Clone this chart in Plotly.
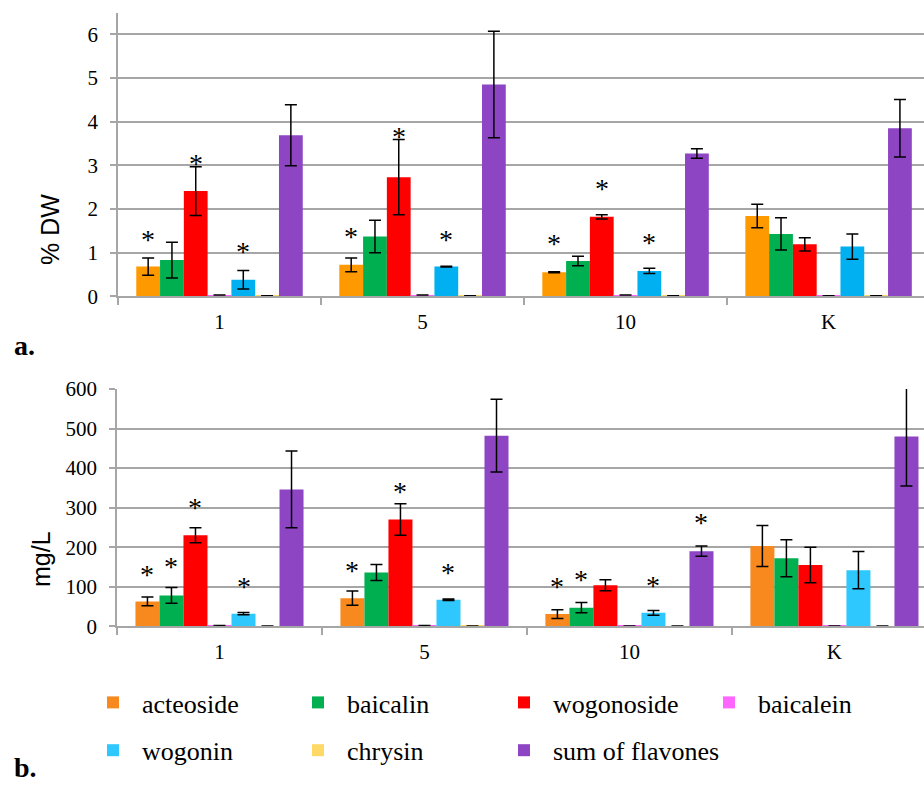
import plotly.graph_objects as go

# Treatments (x categories) and compounds (bar series)
categories = ["1", "5", "10", "K"]
compounds = ["acteoside", "baicalin", "wogonoside", "baicalein",
             "wogonin", "chrysin", "sum of flavones"]

# Panel a: content in % of dry weight (mean, error)
dw_mean = {
    "acteoside":       [0.68, 0.72, 0.55, 1.84],
    "baicalin":        [0.83, 1.37, 0.81, 1.43],
    "wogonoside":      [2.41, 2.73, 1.82, 1.19],
    "baicalein":       [0.03, 0.03, 0.03, 0.01],
    "wogonin":         [0.38, 0.68, 0.58, 1.14],
    "chrysin":         [0.01, 0.01, 0.01, 0.01],
    "sum of flavones": [3.69, 4.85, 3.27, 3.85],
}
dw_err = {
    "acteoside":       [0.20, 0.16, 0.01, 0.27],
    "baicalin":        [0.41, 0.37, 0.11, 0.37],
    "wogonoside":      [0.56, 0.86, 0.05, 0.15],
    "baicalein":       [0.0, 0.0, 0.0, 0.0],
    "wogonin":         [0.21, 0.01, 0.06, 0.29],
    "chrysin":         [0.0, 0.0, 0.0, 0.0],
    "sum of flavones": [0.70, 1.22, 0.11, 0.66],
}

# Panel b: concentration in mg/L (mean, error)
mgl_mean = {
    "acteoside":       [63, 71, 31, 203],
    "baicalin":        [78, 136, 47, 172],
    "wogonoside":      [230, 270, 104, 155],
    "baicalein":       [2, 2, 1, 1],
    "wogonin":         [32, 67, 34, 142],
    "chrysin":         [0.5, 1, 0.5, 0.5],
    "sum of flavones": [346, 482, 190, 480],
}
mgl_err = {
    "acteoside":       [11, 18, 11, 52],
    "baicalin":        [20, 20, 13, 47],
    "wogonoside":      [19, 40, 14, 45],
    "baicalein":       [0, 0, 0, 0],
    "wogonin":         [3, 2, 6, 47],
    "chrysin":         [0, 0, 0, 0],
    "sum of flavones": [97, 92, 13, 125],
}

# Significance asterisks: (category, compound, height of the mark)
stars_a = [("1", "acteoside", 1.38), ("1", "wogonoside", 3.12), ("1", "wogonin", 1.10),
           ("5", "acteoside", 1.43), ("5", "wogonoside", 3.74), ("5", "wogonin", 1.36),
           ("10", "acteoside", 1.27), ("10", "wogonoside", 2.53), ("10", "wogonin", 1.31)]
stars_b = [("1", "acteoside", 138), ("1", "baicalin", 158), ("1", "wogonoside", 309),
           ("1", "wogonin", 109),
           ("5", "acteoside", 149), ("5", "wogonoside", 349), ("5", "wogonin", 144),
           ("10", "acteoside", 109), ("10", "baicalin", 125), ("10", "wogonin", 111),
           ("10", "sum of flavones", 269)]

colors_a = {"acteoside": "#FF9900", "baicalin": "#00B050", "wogonoside": "#FF0000",
            "baicalein": "#FF66FF", "wogonin": "#00B0F0", "chrysin": "#FFD966",
            "sum of flavones": "#8D45C4"}
colors_b = {"acteoside": "#F7891F", "baicalin": "#00B050", "wogonoside": "#FF0000",
            "baicalein": "#FF66FF", "wogonin": "#2EC8FF", "chrysin": "#FFD966",
            "sum of flavones": "#8D45C4"}

# legend columns (left to right), entries listed top to bottom
legend_columns = [["acteoside", "wogonin"], ["baicalin", "chrysin"],
                  ["wogonoside", "sum of flavones"], ["baicalein"]]

SERIF = "Liberation Serif"
SANS = "Liberation Sans"
GRID = "#A6A6A6"
BARGAP = 0.18
W, H = 924, 785

legend_of = {}
for i, col in enumerate(legend_columns):
    for name in col:
        legend_of[name] = "legend" if i == 0 else f"legend{i + 1}"

fig = go.Figure()

for name in compounds:
    fig.add_trace(go.Bar(
        x=categories, y=dw_mean[name], name=name,
        marker=dict(color=colors_a[name], line=dict(width=0)),
        error_y=dict(type="data", array=dw_err[name], visible=True,
                     color="black", thickness=1.5, width=6),
        xaxis="x", yaxis="y", showlegend=False,
    ))
for name in compounds:
    fig.add_trace(go.Bar(
        x=categories, y=mgl_mean[name], name=name,
        marker=dict(color=colors_b[name], line=dict(width=0)),
        error_y=dict(type="data", array=mgl_err[name], visible=True,
                     color="black", thickness=1.5, width=6),
        xaxis="x2", yaxis="y2", showlegend=True,
        legend=legend_of[name], legendgroup=name,
    ))

# position of a compound's bar inside its category group (category units)
slot = (1 - BARGAP) / len(compounds)


def bar_x(cat, name):
    return categories.index(cat) - (1 - BARGAP) / 2 + (compounds.index(name) + 0.5) * slot


annotations = []
for stars, xr, yr in ((stars_a, "x", "y"), (stars_b, "x2", "y2")):
    for cat, name, h in stars:
        annotations.append(dict(
            x=bar_x(cat, name), y=h, xref=xr, yref=yr, text="*", showarrow=False,
            font=dict(family=SERIF, size=28, color="black"),
            xanchor="center", yanchor="middle", yshift=-3,
        ))


def paper_text(text, px, py, font, angle=0, xanchor="center", yanchor="middle"):
    return dict(x=px / W, y=1 - py / H, xref="paper", yref="paper", text=text,
                showarrow=False, textangle=angle, xanchor=xanchor, yanchor=yanchor,
                font=font)


letter_font = dict(family=SERIF, size=28, color="black")
title_font = dict(family=SANS, size=25, color="black")
annotations += [
    paper_text("<b>a.</b>", 12, 345, letter_font, xanchor="left"),
    paper_text("<b>b.</b>", 12, 785, letter_font, xanchor="left", yanchor="bottom"),
    paper_text("% DW", 50, 230, title_font, angle=-90),
    paper_text("mg/L", 41, 559, title_font, angle=-90),
]

axis_common = dict(showline=True, linecolor=GRID, linewidth=1.5, ticks="outside",
                   tickcolor=GRID, tickwidth=1.5, automargin=False)
xaxis_common = dict(axis_common, type="category", categoryorder="array",
                    categoryarray=categories, tickson="boundaries", ticklen=7,
                    showgrid=False, tickfont=dict(family=SERIF, size=21, color="black"),
                    ticklabelstandoff=6)
yaxis_common = dict(axis_common, ticklen=6, showgrid=True, gridcolor=GRID, gridwidth=1.5,
                    zeroline=False, tickfont=dict(family=SERIF, size=21, color="black"),
                    ticklabelstandoff=8)

legends = {}
for i, px in enumerate([84, 289, 495, 700]):
    key = "legend" if i == 0 else f"legend{i + 1}"
    legends[key] = dict(orientation="v", x=px / W, y=1 - 679 / H, xanchor="left",
                        yanchor="top", itemwidth=48, tracegroupgap=11,
                        font=dict(family=SERIF, size=26, color="black"),
                        bgcolor="rgba(0,0,0,0)")

fig.update_layout(
    width=W, height=H,
    margin=dict(l=0, r=0, t=0, b=0, autoexpand=False),
    paper_bgcolor="white", plot_bgcolor="white",
    barmode="group", bargap=BARGAP, bargroupgap=0,
    xaxis=dict(xaxis_common, domain=[118 / W, 1], range=[-0.5, 3.47], anchor="y"),
    yaxis=dict(yaxis_common, domain=[1 - 296.3 / H, 1 - 13 / H],
               range=[0, 6.49], tickvals=[0, 1, 2, 3, 4, 5, 6], anchor="x"),
    xaxis2=dict(xaxis_common, domain=[117 / W, 1], range=[-0.5, 3.437], anchor="y2"),
    yaxis2=dict(yaxis_common, domain=[1 - 626.3 / H, 1 - 389 / H],
                range=[0, 600], tickvals=[0, 100, 200, 300, 400, 500, 600], anchor="x2"),
    annotations=annotations,
    **legends,
)

fig.write_html("out.html")
